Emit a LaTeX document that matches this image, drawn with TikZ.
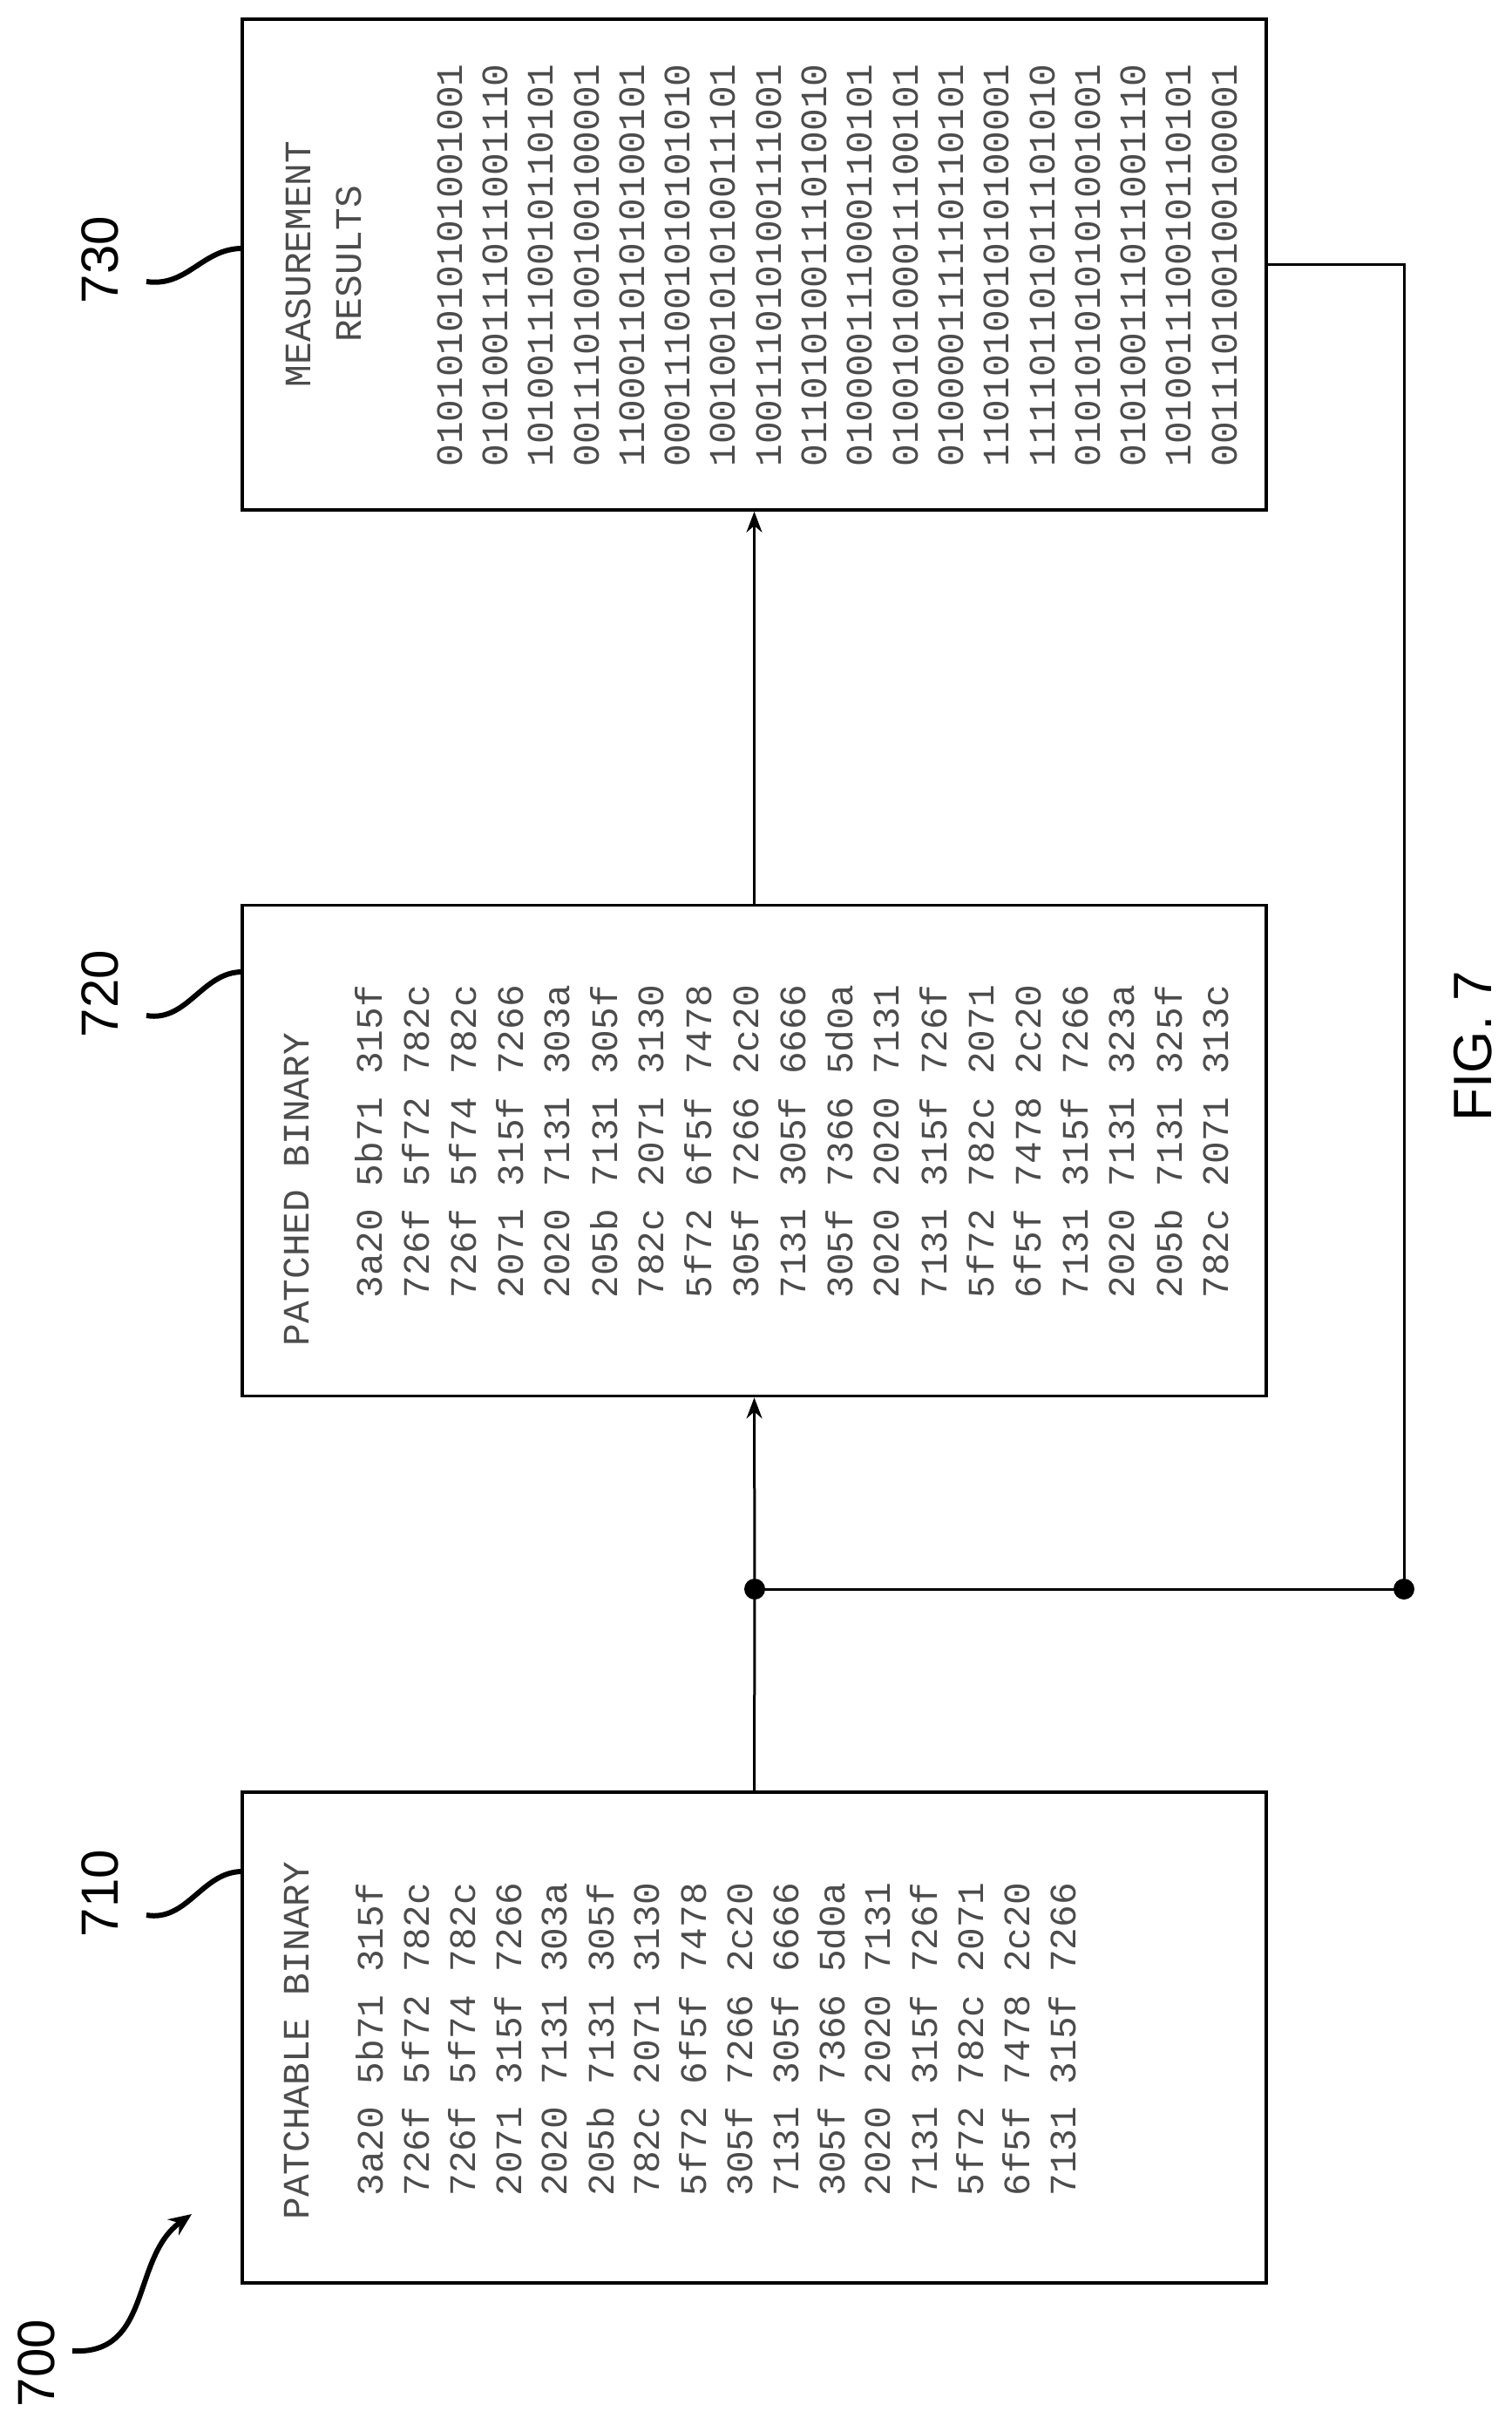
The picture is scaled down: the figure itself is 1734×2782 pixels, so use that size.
\documentclass[tikz,border=0pt]{standalone}
\usepackage{fontspec}
\setmainfont{Liberation Sans}
\newfontfamily\monof{Liberation Mono}
\usetikzlibrary{arrows.meta}
\tikzset{
  box/.style={draw, line width=1.8pt, minimum width=587.5pt, minimum height=281.5pt, inner sep=0pt},
  txt/.style={rotate=90, inner sep=0pt, text=black!70, font=\monof\fontsize{21.4}{22}\selectfont},
  lbl/.style={rotate=90, inner sep=0pt, font=\fontsize{30}{31}\selectfont},
  conn/.style={line width=1.5pt},
  arr/.style={conn, -{Stealth[length=12pt, width=9pt]}},
  squig/.style={line width=3pt},
  dot/.style={fill=black}
}
\begin{document}
\begin{tikzpicture}[x=0.5pt, y=-0.5pt]
\useasboundingbox (0,0) rectangle (1734,2782);
% boxes
\node[box] (b710) at (865.5,2337.5) {};
\node[box] (b720) at (865.5,1320) {};
\node[box] (b730) at (865.5,303.5) {};
% 710 text
\node[txt, anchor=west] (t710) at (340,2547) {PATCHABLE BINARY};
\foreach \t [count=\i from 0] in {3a20 5b71 315f,726f 5f72 782c,726f 5f74 782c,2071 315f 7266,2020 7131 303a,205b 7131 305f,782c 2071 3130,5f72 6f5f 7478,305f 7266 2c20,7131 305f 6666,305f 7366 5d0a,2020 2020 7131,7131 315f 726f,5f72 782c 2071,6f5f 7478 2c20,7131 315f 7266}
  \node[txt, anchor=west] at ({424+53*\i},2520) {\t};
% 720 text
\node[txt, anchor=west] (t720) at (340,1545) {PATCHED BINARY};
\foreach \t [count=\i from 0] in {3a20 5b71 315f,726f 5f72 782c,726f 5f74 782c,2071 315f 7266,2020 7131 303a,205b 7131 305f,782c 2071 3130,5f72 6f5f 7478,305f 7266 2c20,7131 305f 6666,305f 7366 5d0a,2020 2020 7131,7131 315f 726f,5f72 782c 2071,6f5f 7478 2c20,7131 315f 7266,2020 7131 323a,205b 7131 325f,782c 2071 313c}
  \node[txt, anchor=west] at ({423+54*\i},1490) {\t};
% 730 text
\node[txt] (t730a) at (342,303) {MEASUREMENT};
\node[txt] (t730b) at (400,303) {RESULTS};
\foreach \t [count=\i from 0] in {010101010101001001,010100111011001110,101001110010110101,001110100100100001,110001101010100101,000111001010101010,100100101010011101,100111010100111001,011010100111010010,010000111000110101,010010100011100101,010000111110110101,110101001010100001,111101101011101010,010101010101001001,010100111011001110,101001110010110101,001110100100100001}
  \node[txt, anchor=west] at ({516+52.3*\i},536) {\t};
% connectors
\coordinate (j1) at (866,1823);
\coordinate (j2) at (1611,1823);
\coordinate (c3) at (1611,303.5);
\draw[conn] (b710.north) -- (j1);
\draw[arr] (j1) -- (b720.south);
\draw[arr] (b720.north) -- (b730.south);
\draw[conn] (j1) -- (j2) -- (c3) -- (b730.east);
\fill[dot] (j1) circle[radius=6pt];
\fill[dot] (j2) circle[radius=6pt];
% labels
\node[lbl] (l710) at (115,2172) {710};
\node[lbl] (l720) at (115,1140) {720};
\node[lbl] (l730) at (115,298) {730};
\node[lbl] (l700) at (42,2711) {700};
\node[rotate=90, inner sep=0pt, font=\fontsize{31}{32}\selectfont] (fig) at (1690,1200) {FIG. 7};
\coordinate (s710) at (168,2197);
\coordinate (s720) at (168,1165);
\coordinate (s730) at (168,323);
\coordinate (e710) at (278,2147);
\coordinate (e720) at (278,1115);
\coordinate (e730) at (278,285);
\draw[squig] (s710) .. controls (215,2205) and (232,2147) .. (e710);
\draw[squig] (s720) .. controls (215,1173) and (232,1115) .. (e720);
\draw[squig] (s730) .. controls (215,330) and (232,285) .. (e730);
\coordinate (s700) at (83,2697);
\coordinate (a700) at (220,2540);
\draw[squig, -{Stealth[length=13pt, width=11pt]}] (s700) .. controls (175,2702) and (150,2590) .. (a700);
\end{tikzpicture}
\end{document}
